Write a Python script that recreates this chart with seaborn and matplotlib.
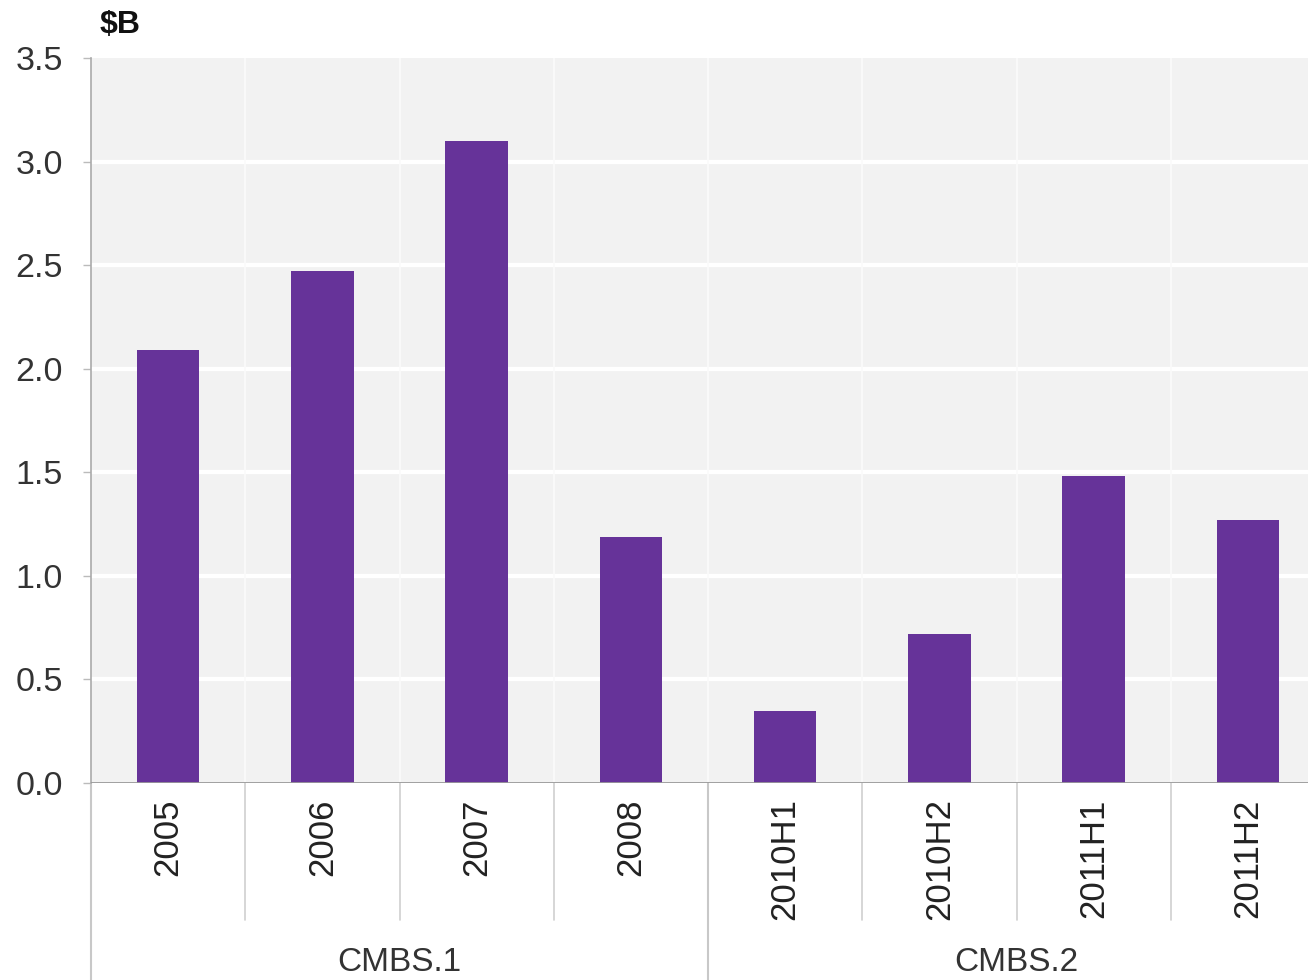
import matplotlib
matplotlib.use("Agg")
import matplotlib.pyplot as plt
import matplotlib.transforms as mtransforms
import seaborn as sns

categories = ["2005", "2006", "2007", "2008", "2010H1", "2010H2", "2011H1", "2011H2"]
values = [2.09, 2.47, 3.10, 1.19, 0.35, 0.72, 1.48, 1.27]
groups = ["CMBS.1", "CMBS.1", "CMBS.1", "CMBS.1", "CMBS.2", "CMBS.2", "CMBS.2", "CMBS.2"]
y_ticks = [0.0, 0.5, 1.0, 1.5, 2.0, 2.5, 3.0, 3.5]

sns.set_theme(style="white")
plt.rcParams["font.family"] = ["Liberation Sans", "DejaVu Sans"]

fig = plt.figure(figsize=(13.08, 9.8), dpi=100)
# plot area runs slightly past the right edge of the canvas
ax = fig.add_axes([91 / 1308, 197 / 980, 1234 / 1308, 725 / 980])
ax.set_facecolor("#f2f2f2")

sns.barplot(x=categories, y=values, color="#663399", saturation=1,
            width=0.405, ax=ax, zorder=3, edgecolor="none", linewidth=0)

ax.set_ylim(0, 3.5)
ax.set_xlim(-0.5, len(categories) - 0.5)
ax.set_yticks(y_ticks)
ax.set_yticklabels([f"{t:.1f}" for t in y_ticks])
ax.set_xlabel("")
ax.set_ylabel("")

# horizontal white gridlines and faint vertical category dividers
for t in y_ticks[1:-1]:
    ax.axhline(t, color="white", lw=3, zorder=1)
for i in range(len(categories) - 1):
    ax.axvline(i + 0.5, color="#fbfbfb", lw=1.2, zorder=1)

for s in ["top", "right", "bottom"]:
    ax.spines[s].set_visible(False)
ax.spines["left"].set_color("#aaaaaa")
ax.spines["left"].set_linewidth(1.2)
ax.axhline(0, color="#999999", lw=2, zorder=4)

ax.tick_params(axis="y", length=6, width=1, color="#bbbbbb", pad=14,
               labelsize=24.5, labelcolor="#333333", left=True)
ax.tick_params(axis="x", length=0, pad=11, labelsize=25, labelcolor="#222222")
ax.set_xticks(range(len(categories)))
ax.set_xticklabels(categories, rotation=90, va="top", ha="center")

# divider lines under the axis: short between categories, full at group edges
trans = mtransforms.blended_transform_factory(ax.transData, ax.transAxes)
group_edges = [-0.5] + [i + 0.5 for i in range(len(groups) - 1) if groups[i] != groups[i + 1]]
for i in range(len(categories) - 1):
    xb = i + 0.5
    if xb in group_edges:
        continue
    ax.plot([xb, xb], [0, -0.189], transform=trans, color="#d0d0d0", lw=1.2, clip_on=False)
for xb in group_edges:
    ax.plot([xb, xb], [0, -0.28], transform=trans, color="#c8c8c8", lw=1.5, clip_on=False)

# group labels centered under their categories
seen = []
for g in groups:
    if g not in seen:
        seen.append(g)
for g in seen:
    idx = [i for i, gg in enumerate(groups) if gg == g]
    xc = (idx[0] + idx[-1]) / 2
    ax.text(xc, -0.247, g, transform=trans, ha="center", va="center",
            fontsize=24, color="#333333")

fig.text(100 / 1308, 1 - 25 / 980, "$B", fontsize=23, fontweight="bold",
         color="#111111", ha="left", va="center")

fig.savefig("out.png", dpi=100)
